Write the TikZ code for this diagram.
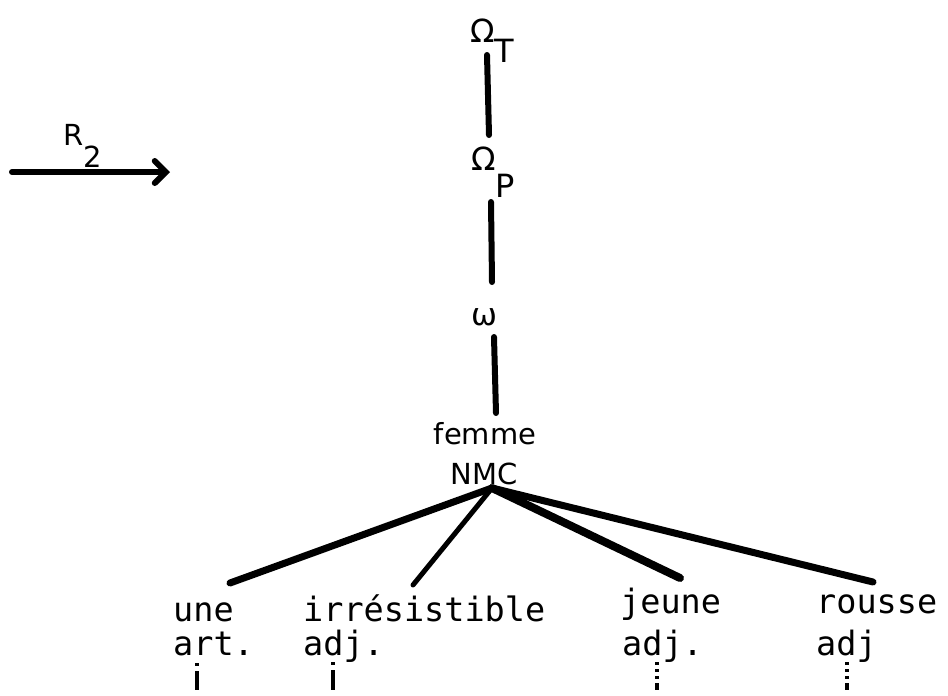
\documentclass[tikz,border=0pt]{standalone}
\usepackage{fontspec}
\setmainfont{DejaVu Sans}
\newfontfamily\monof{DejaVu Sans Mono}
\usetikzlibrary{arrows.meta}
\begin{document}
\begin{tikzpicture}[x=1pt,y=-1pt,
  lab/.style={inner sep=0pt, font=\fontsize{29}{29}\selectfont},
  biglab/.style={inner sep=0pt, font=\fontsize{32}{32}\selectfont, anchor=base west},
  mono/.style={inner sep=0pt, font=\monof\fontsize{33.5}{33.5}\selectfont, anchor=base west},
  vedge/.style={line width=6pt, line cap=round},
  tedge/.style={line width=7pt, line cap=round},
  stub/.style={line width=4pt, dash pattern=on 3pt off 5pt on 22pt},
  stubb/.style={line width=4pt, dash pattern=on 3pt off 4pt on 3pt off 4pt on 3pt off 4pt on 8pt},
]
\fill[white] (0,0) rectangle (948,696);
\useasboundingbox (0,0) rectangle (948,696);

% arrow R2
\coordinate (arrS) at (12,172);
\coordinate (arrE) at (170,172);
\draw[line width=6pt, line cap=round, -{Straight Barb[length=11pt,width=22pt,line cap=round]}] (arrS) -- (arrE);
\node[lab, anchor=base west] (rtwo) at (63,145) {R\raisebox{-22pt}{2}};

% upper chain
\node[biglab] (omT) at (470,42) {Ω\raisebox{-20pt}{T}};
\node[biglab] (omP) at (471,170) {Ω\raisebox{-27pt}{P}};
\node[lab, font=\fontsize{31}{31}\selectfont, anchor=base] (omega) at (484,325) {ω};
\node[lab, anchor=base] (femme) at (485,444) {femme};
\node[lab, anchor=base] (nmc) at (484,484) {NMC};

\draw[vedge] ([shift={(17,13)}]omT.base west) -- ([shift={(18,-35)}]omP.base west);
\draw[vedge] ([shift={(20,32)}]omP.base west) -- ([shift={(8,-43)}]omega.base);
\draw[vedge] ([shift={(10,12)}]omega.base) -- ([shift={(11,-31)}]femme.base);

% leaves
\node[mono] (une) at (173,621) {une};
\node[mono] (art) at (173,655) {art.};
\node[mono] (irr) at (303,621) {irrésistible};
\node[mono] (adja) at (303,655) {adj.};
\node[mono] (jeune) at (620,613) {jeune};
\node[mono] (adjb) at (622,655) {adj.};
\node[mono] (rousse) at (816,613) {rousse};
\node[mono] (adjc) at (816,655) {adj};

\coordinate (apex) at ([shift={(8,4)}]nmc.base);
\draw[tedge] (apex) -- ([shift={(57,-38)}]une.base west);
\draw[line width=5pt, line cap=round] (apex) -- ([shift={(110,-36)}]irr.base west);
\draw[line width=8pt, line cap=round] (apex) -- ([shift={(60,-35)}]jeune.base west);
\draw[tedge] (apex) -- ([shift={(57,-31)}]rousse.base west);

% stubs
\draw[stub] ([shift={(24,8)}]art.base west) -- ++(0,27);
\draw[stub] ([shift={(30,7)}]adja.base west) -- ++(0,28);
\draw[stubb] ([shift={(35,7)}]adjb.base west) -- ++(0,28);
\draw[stubb] ([shift={(31,7)}]adjc.base west) -- ++(0,28);
\end{tikzpicture}
\end{document}
